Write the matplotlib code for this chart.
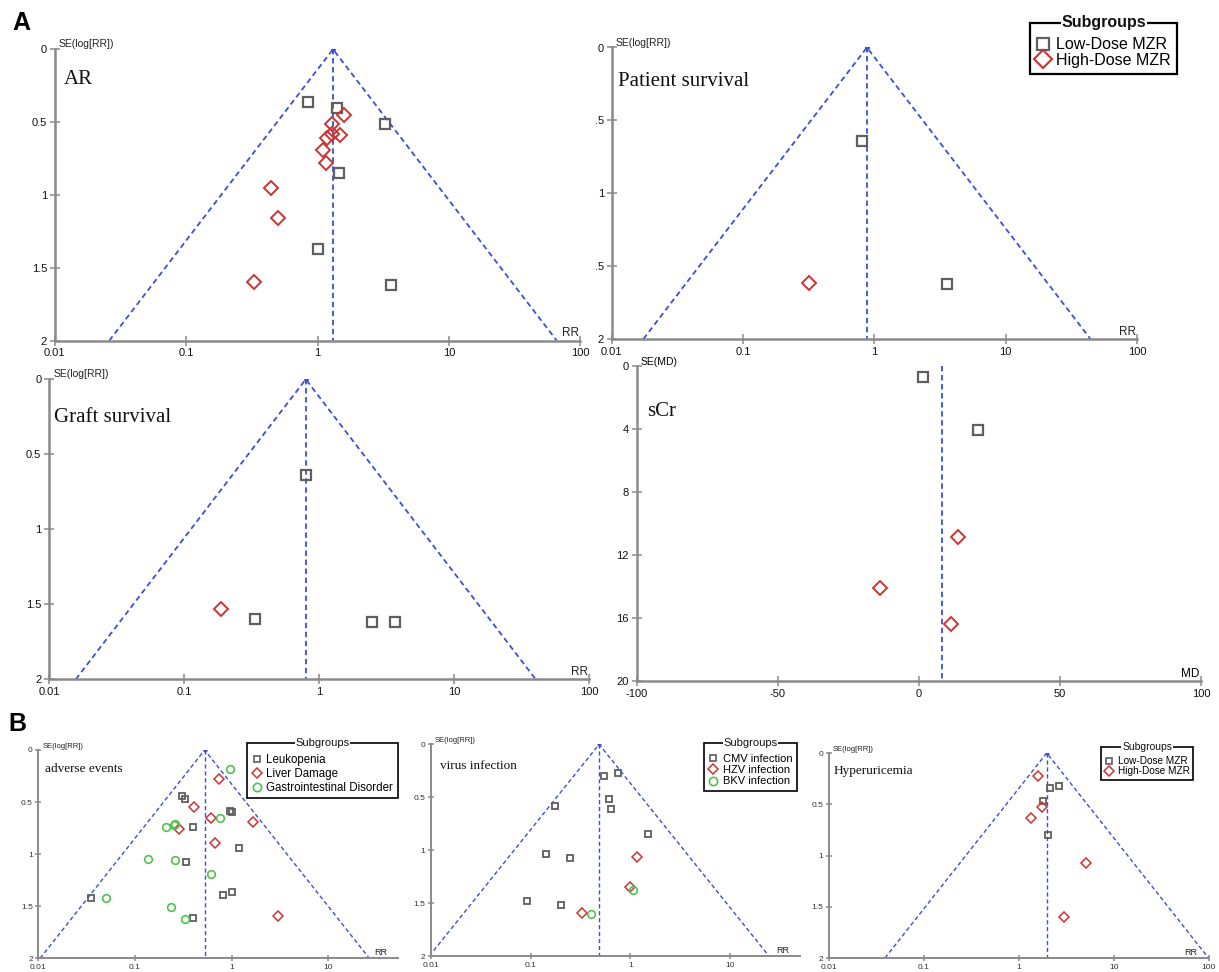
import numpy as np
import matplotlib
matplotlib.use("Agg")
import matplotlib.pyplot as plt
from matplotlib.lines import Line2D

# ---------------- data ----------------
# A: AR
ar_low_rr = [0.85, 1.40, 3.23, 1.46, 1.00, 3.62]
ar_low_se = [0.36, 0.40, 0.51, 0.85, 1.37, 1.62]
ar_high_rr = [1.60, 1.28, 1.28, 1.48, 1.17, 1.09, 1.16, 0.44, 0.50, 0.33]
ar_high_se = [0.45, 0.51, 0.58, 0.59, 0.61, 0.69, 0.78, 0.95, 1.16, 1.60]
ar_pooled = 1.31
# A: Patient survival
ps_low_rr = [0.80, 3.60]
ps_low_se = [0.64, 1.62]
ps_high_rr = [0.317]
ps_high_se = [1.615]
ps_pooled = 0.877
# A: Graft survival
gs_low_rr = [0.80, 0.334, 2.46, 3.64]
gs_low_se = [0.64, 1.60, 1.62, 1.62]
gs_high_rr = [0.187]
gs_high_se = [1.53]
gs_pooled = 0.796
# A: sCr (mean difference)
scr_low_md = [1.4, 21.0]
scr_low_se = [0.68, 4.07]
scr_high_md = [14.0, -13.6, 11.5]
scr_high_se = [10.87, 14.07, 16.38]
scr_pooled = 8.1
# B: adverse events
leuk_rr = [0.309, 0.327, 0.401, 0.96, 1.01, 1.18, 0.337, 0.82, 1.0, 0.0348, 0.40]
leuk_se = [0.44, 0.47, 0.74, 0.59, 0.60, 0.94, 1.08, 1.39, 1.36, 1.42, 1.61]
liver_rr = [0.74, 0.408, 0.607, 0.285, 1.68, 0.673, 2.99]
liver_se = [0.28, 0.55, 0.65, 0.76, 0.69, 0.89, 1.59]
gi_rr = [0.96, 0.75, 0.211, 0.253, 0.26, 0.135, 0.261, 0.607, 0.050, 0.238, 0.329]
gi_se = [0.18, 0.65, 0.74, 0.72, 0.71, 1.05, 1.06, 1.19, 1.42, 1.51, 1.62]
ae_pooled = 0.526
# B: virus infection
cmv_rr = [0.548, 0.746, 0.611, 0.64, 0.177, 1.49, 0.143, 0.246, 0.092, 0.20]
cmv_se = [0.30, 0.27, 0.52, 0.61, 0.58, 0.85, 1.04, 1.07, 1.48, 1.52]
hzv_rr = [1.175, 0.985, 0.33]
hzv_se = [1.06, 1.35, 1.59]
bkv_rr = [1.055, 0.40]
bkv_se = [1.38, 1.60]
vi_pooled = 0.485
# B: Hyperuricemia
hu_low_rr = [2.14, 2.63, 1.79, 2.04]
hu_low_se = [0.34, 0.32, 0.47, 0.80]
hu_high_rr = [1.58, 1.77, 1.33, 5.07, 3.02]
hu_high_se = [0.22, 0.53, 0.63, 1.07, 1.60]
hu_pooled = 1.97

rr_ticks = [0.01, 0.1, 1, 10, 100]
rr_ticklabels = ["0.01", "0.1", "1", "10", "100"]
se_ticks = [0, 0.5, 1, 1.5, 2]
se_ticklabels = ["0", "0.5", "1", "1.5", "2"]
ps_se_ticklabels = ["0", ".5", "1", ".5", "2"]
md_ticks = [-100, -50, 0, 50, 100]
md_se_ticks = [0, 4, 8, 12, 16, 20]

# ---------------- style ----------------
W, H = 1219, 972
SANS = ["Liberation Sans", "DejaVu Sans"]
SERIF = ["Liberation Serif", "DejaVu Serif"]
plt.rcParams["font.family"] = SANS
AXC = "#8a8a8a"
BLUE = "#3a4fd6"
GRAY = "#5f5f5f"
RED = "#cc3333"
GREEN = "#4fc24f"

fig = plt.figure(figsize=(W / 100, H / 100), dpi=100)
fig.patch.set_facecolor("white")


def add_ax(x0, x1, y0, y1):
    return fig.add_axes([x0 / W, 1 - y1 / H, (x1 - x0) / W, (y1 - y0) / H])


def style_ax(ax, small=False):
    for s in ("top", "right"):
        ax.spines[s].set_visible(False)
    for s in ("left", "bottom"):
        ax.spines[s].set_color(AXC)
        ax.spines[s].set_linewidth(1.4 if small else 1.8)
    ax.tick_params(direction="inout", length=5 if small else 7, width=1.1,
                   color=AXC, labelsize=6 if small else 8, pad=1.5 if small else 2,
                   labelcolor="#333333" if small else "#111111")
    ax.patch.set_alpha(0)


def funnel(ax, pooled, small=False):
    lw = 1.0 if small else 1.3
    xl = pooled * np.exp(-1.96 * 2)
    xr = pooled * np.exp(1.96 * 2)
    ax.plot([xl, pooled, xr], [2, 0, 2], ls=(0, (3, 2)), color=BLUE, lw=lw, zorder=2)
    ax.plot([pooled, pooled], [0, 2], ls=(0, (3, 2)), color=BLUE, lw=lw, zorder=2)
    ax.plot([pooled], [0], marker="o", ms=2.5 if not small else 2, color=BLUE, zorder=3)


def rr_axis(ax, xmax=100, small=False, ylabels=se_ticklabels):
    ax.set_xscale("log")
    ax.set_xlim(0.01, xmax)
    ax.set_ylim(2, 0)
    ticks = [t for t in rr_ticks if t <= xmax * 1.001]
    ax.set_xticks(ticks)
    ax.set_xticklabels(rr_ticklabels[:len(ticks)])
    ax.xaxis.set_minor_locator(matplotlib.ticker.NullLocator())
    ax.set_yticks(se_ticks)
    ax.set_yticklabels(ylabels)
    style_ax(ax, small)
    fs = 5.5 if small else 7.5
    ax.annotate("SE(log[RR])", xy=(0, 1), xycoords="axes fraction",
                xytext=(3, 0), textcoords="offset points", ha="left", va="bottom",
                fontsize=fs, color="#222222")
    ax.annotate("RR", xy=(1, 0), xycoords="axes fraction",
                xytext=(-1 if not small else -8, 1), textcoords="offset points",
                ha="right", va="bottom", fontsize=fs + 1, color="#222222")


def pts(ax, x, y, kind, small=False):
    if kind == "sq":
        ax.plot(x, y, ls="none", marker="s", ms=5 if small else 6.5, mfc="none",
                mec=GRAY, mew=1.3 if small else 1.6, zorder=4)
    elif kind == "di":
        ax.plot(x, y, ls="none", marker="D", ms=5 if small else 7, mfc="none",
                mec=RED, mew=1.1 if small else 1.4, zorder=4)
    else:
        ax.plot(x, y, ls="none", marker="o", ms=5.5, mfc="none",
                mec=GREEN, mew=1.2, zorder=4)


def title_txt(x, y, s, size):
    fig.text(x / W, 1 - y / H, s, fontsize=size, family=SERIF, ha="left",
             va="center", color="#111111")


legends = []


def make_legend(ax, handles, labels, x, y, fs, tfs, bold, lw, spacing=0.15, spacer=4.5):
    leg = ax.legend(handles, labels, loc="upper left",
                    bbox_to_anchor=(x / W, 1 - y / H), bbox_transform=fig.transFigure,
                    fontsize=fs, frameon=True, fancybox=False, framealpha=1,
                    edgecolor="black", borderpad=0.4, handlelength=0.8,
                    handletextpad=0.45, labelspacing=spacing, borderaxespad=0,
                    title=" ", title_fontsize=spacer)
    leg.get_frame().set_linewidth(lw)
    legends.append((leg, "Subgroups", tfs, bold))


# ---------- Panel A: AR ----------
ax1 = add_ax(54.7, 580.5, 49.3, 340.7)
rr_axis(ax1)
funnel(ax1, ar_pooled)
pts(ax1, ar_low_rr, ar_low_se, "sq")
pts(ax1, ar_high_rr, ar_high_se, "di")
title_txt(64, 79, "AR", 15)

# ---------- Panel A: Patient survival ----------
ax2 = add_ax(611.8, 1137, 47.5, 339)
rr_axis(ax2, ylabels=ps_se_ticklabels)
funnel(ax2, ps_pooled)
pts(ax2, ps_low_rr, ps_low_se, "sq")
pts(ax2, ps_high_rr, ps_high_se, "di")
title_txt(618, 81, "Patient survival", 15)
h_sq = Line2D([], [], ls="none", marker="s", ms=8, mfc="none", mec=GRAY, mew=1.6)
h_di = Line2D([], [], ls="none", marker="D", ms=9, mfc="none", mec=RED, mew=1.5)
make_legend(ax2, [h_sq, h_di], ["Low-Dose MZR", "High-Dose MZR"], 1030, 23,
            11.5, 11.5, True, 1.6, spacing=0.05, spacer=5)

# ---------- Panel A: Graft survival ----------
ax3 = add_ax(49, 589.3, 379.3, 679.3)
rr_axis(ax3)
funnel(ax3, gs_pooled)
pts(ax3, gs_low_rr, gs_low_se, "sq")
pts(ax3, gs_high_rr, gs_high_se, "di")
title_txt(54, 417, "Graft survival", 15)

# ---------- Panel A: sCr ----------
ax4 = add_ax(636.7, 1201, 366, 681)
ax4.set_xlim(-100, 100)
ax4.set_ylim(20, 0)
ax4.set_xticks(md_ticks)
ax4.set_xticklabels([str(t) for t in md_ticks])
ax4.set_yticks(md_se_ticks)
style_ax(ax4)
ax4.plot([scr_pooled, scr_pooled], [0, 20], ls=(0, (3, 2)), color=BLUE, lw=1.3, zorder=2)
pts(ax4, scr_low_md, scr_low_se, "sq")
pts(ax4, scr_high_md, scr_high_se, "di")
ax4.annotate("SE(MD)", xy=(0, 1), xycoords="axes fraction", xytext=(3, -1),
             textcoords="offset points", ha="left", va="bottom", fontsize=7.5)
ax4.annotate("MD", xy=(1, 0), xycoords="axes fraction", xytext=(-1, 1),
             textcoords="offset points", ha="right", va="bottom", fontsize=8.5)
title_txt(647, 412, "sCr", 15)

# ---------- Panel B: adverse events ----------
ax5 = add_ax(38.3, 398, 750, 958.3)
rr_axis(ax5, xmax=10 ** 1.72, small=True)
funnel(ax5, ae_pooled, small=True)
pts(ax5, leuk_rr, leuk_se, "sq", small=True)
pts(ax5, liver_rr, liver_se, "di", small=True)
pts(ax5, gi_rr, gi_se, "ci", small=True)
title_txt(45, 769, "adverse events", 9.5)
hs = Line2D([], [], ls="none", marker="s", ms=5, mfc="none", mec=GRAY, mew=1.2)
hd = Line2D([], [], ls="none", marker="D", ms=5.5, mfc="none", mec=RED, mew=1.1)
hc = Line2D([], [], ls="none", marker="o", ms=6, mfc="none", mec=GREEN, mew=1.2)
make_legend(ax5, [hs, hd, hc], ["Leukopenia", "Liver Damage", "Gastrointestinal Disorder"],
            247.3, 743, 8.3, 8, False, 1.2, spacing=0.15, spacer=4)

# ---------- Panel B: virus infection ----------
ax6 = add_ax(431, 800, 744.3, 956)
rr_axis(ax6, xmax=10 ** 1.70, small=True)
funnel(ax6, vi_pooled, small=True)
pts(ax6, cmv_rr, cmv_se, "sq", small=True)
pts(ax6, hzv_rr, hzv_se, "di", small=True)
pts(ax6, bkv_rr, bkv_se, "ci", small=True)
title_txt(440, 766, "virus infection", 9.5)
make_legend(ax6, [hs, hd, hc], ["CMV infection", "HZV infection", "BKV infection"],
            704.3, 743, 8, 8, False, 1.2, spacing=0.12, spacer=4)

# ---------- Panel B: Hyperuricemia ----------
ax7 = add_ax(828.7, 1208.8, 753, 958)
rr_axis(ax7, small=True)
funnel(ax7, hu_pooled, small=True)
pts(ax7, hu_low_rr, hu_low_se, "sq", small=True)
pts(ax7, hu_high_rr, hu_high_se, "di", small=True)
title_txt(834, 771, "Hyperuricemia", 9.5)
make_legend(ax7, [hs, hd], ["Low-Dose MZR", "High-Dose MZR"],
            1101, 747, 7.2, 7.5, False, 1.2, spacing=0.0, spacer=3.5)

# panel letters
fig.text(12 / W, 1 - 23 / H, "A", fontsize=18, fontweight="bold", ha="left", va="center")
fig.text(8 / W, 1 - 724 / H, "B", fontsize=18, fontweight="bold", ha="left", va="center")

# legend titles sitting on the top border of the frame
fig.canvas.draw()
for leg, t, tfs, bold in legends:
    bb = leg.get_frame().get_window_extent()
    cx = (bb.x0 + bb.x1) / 2
    fig.text(cx / W, bb.y1 / H, t, fontsize=tfs, fontweight="bold" if bold else "normal",
             ha="center", va="center", color="#111111",
             bbox=dict(facecolor="white", edgecolor="none", pad=0.5), zorder=10)

fig.savefig("out.png", dpi=100)
